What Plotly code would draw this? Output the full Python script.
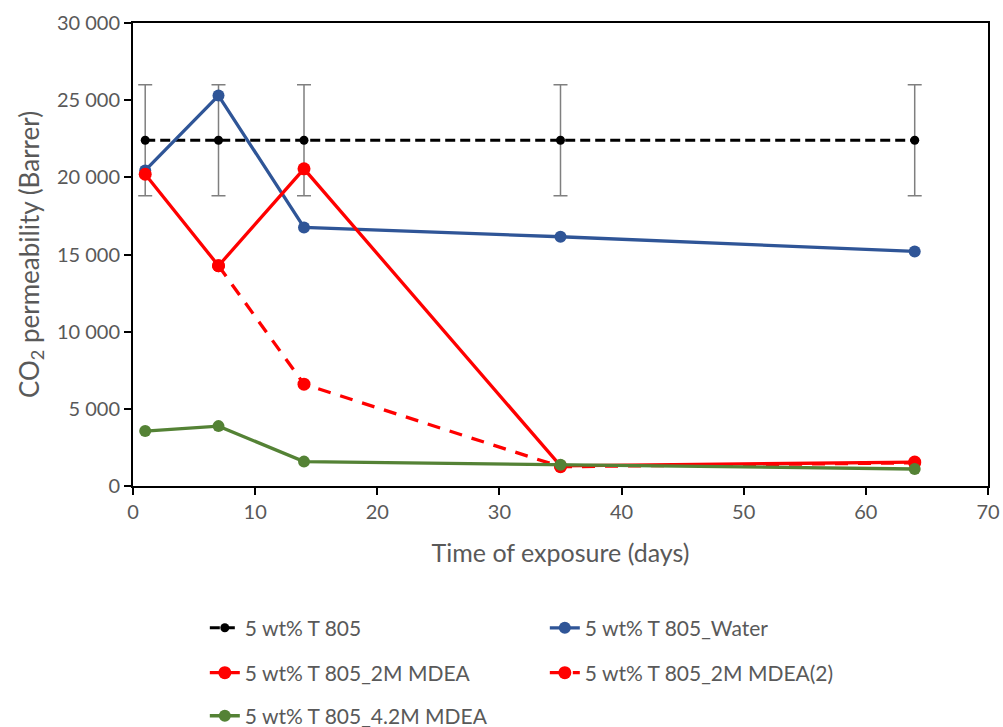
import plotly.graph_objects as go

days = [1, 7, 14, 35, 64]
days_mdea2 = [7, 14, 35, 64]

t805 = [22400, 22400, 22400, 22400, 22400]
t805_err = [3600, 3600, 3600, 3600, 3600]
t805_water = [20450, 25300, 16750, 16150, 15200]
t805_2m = [20200, 14270, 20550, 1300, 1550]
t805_2m_b = [14270, 6600, 1250, 1500]
t805_42m = [3560, 3880, 1580, 1380, 1100]

names = ["5 wt% T 805", "5 wt% T 805_Water", "5 wt% T 805_2M MDEA",
         "5 wt% T 805_2M MDEA(2)", "5 wt% T 805_4.2M MDEA"]

FONT = "Lato, 'Open Sans', sans-serif"
GREY = "#595959"

fig = go.Figure()
fig.add_trace(go.Scatter(
    x=days, y=t805, name=names[0], mode="lines+markers",
    line=dict(color="black", width=3, dash="10px,5px"),
    marker=dict(color="black", size=9),
    error_y=dict(type="data", array=t805_err, color="#7f7f7f", thickness=1.5, width=7),
    legend="legend"))
fig.add_trace(go.Scatter(
    x=days, y=t805_water, name=names[1], mode="lines+markers",
    line=dict(color="#2F5597", width=3.3),
    marker=dict(color="#2F5597", size=12),
    legend="legend"))
fig.add_trace(go.Scatter(
    x=days, y=t805_2m, name=names[2], mode="lines+markers",
    line=dict(color="#FF0000", width=3.3),
    marker=dict(color="#FF0000", size=13),
    legend="legend2"))
fig.add_trace(go.Scatter(
    x=days_mdea2, y=t805_2m_b, name=names[3], mode="lines+markers",
    line=dict(color="#FF0000", width=3.3, dash="13px,10px"),
    marker=dict(color="#FF0000", size=13),
    legend="legend2"))
fig.add_trace(go.Scatter(
    x=days, y=t805_42m, name=names[4], mode="lines+markers",
    line=dict(color="#548235", width=3.3),
    marker=dict(color="#548235", size=12),
    legend="legend3"))

leg_common = dict(orientation="h", xanchor="left", yanchor="middle", x=0.084,
                  entrywidth=295, font=dict(family=FONT, size=21, color=GREY),
                  bgcolor="rgba(0,0,0,0)")
fig.update_layout(
    width=1003, height=727,
    margin=dict(l=133, r=15, t=23, b=241, autoexpand=False),
    paper_bgcolor="white", plot_bgcolor="white",
    separators=". ",
    font=dict(family=FONT, size=20, color=GREY),
    legend=dict(leg_common, y=-0.307),
    legend2=dict(leg_common, y=-0.404),
    legend3=dict(leg_common, y=-0.497),
    xaxis=dict(range=[0, 70], dtick=10, tick0=0, showgrid=False, zeroline=False,
               showline=True, linecolor="black", linewidth=2, mirror=True,
               ticks="outside", ticklen=7, tickcolor="black", tickwidth=1.5,
               tickfont=dict(family=FONT, size=20, color=GREY),
               title=dict(text="Time of exposure (days)", standoff=22,
                          font=dict(family=FONT, size=25, color=GREY))),
    yaxis=dict(range=[0, 30000], dtick=5000, tick0=0, showgrid=False, zeroline=False,
               showline=True, linecolor="black", linewidth=2, mirror=True,
               ticks="outside", ticklen=7, tickcolor="black", tickwidth=1.5,
               tickformat=",d",
               tickfont=dict(family=FONT, size=20, color=GREY),
               title=dict(text="CO<sub>2</sub> permeability (Barrer)", standoff=10,
                          font=dict(family=FONT, size=26, color=GREY))),
)

fig.write_html("out.html")
